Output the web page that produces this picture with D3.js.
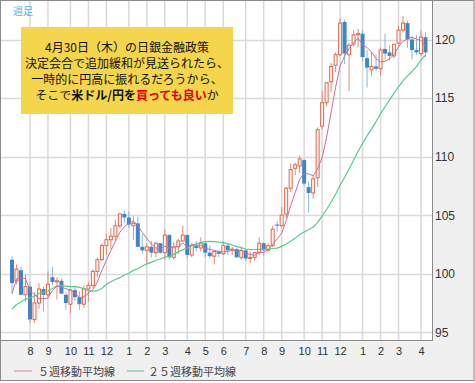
<!DOCTYPE html>
<html>
<head>
<meta charset="utf-8">
<script src="https://cdn.jsdelivr.net/npm/d3@7"></script>
<style>
  html, body { margin: 0; padding: 0; background: #ffffff; }
  svg { display: block; }
</style>
</head>
<body>
<svg id="chart" width="475" height="383"></svg>
<script>
// ---------------- DATA ----------------
// Weekly USD/JPY candles, weeks starting Monday 2013-07-08 .. 2015-04-13
const firstWeek = "2013-07-08";
const lastWeek = "2015-04-13";

const open = [
  101.2, 99.4, 100.3, 98.2, 98.9, 96.1, 97.5, 98.7, 98.2, 99.7, 99.3, 99.4, 98.2,
  97.4, 98.6, 98.0, 97.4, 98.7, 99.0, 100.2, 101.2, 102.4, 102.9, 103.2, 104.1, 105.1,
  104.8, 104.1, 104.3, 102.3, 102.0, 102.3, 101.8, 102.6, 101.8, 103.3, 101.4, 102.3, 102.8,
  103.3, 101.6, 102.4, 102.2, 102.6, 101.8, 101.5, 101.9, 101.7, 102.4, 102.0, 102.1, 101.4,
  102.0, 101.3, 101.4, 101.8, 102.6, 102.0, 102.4, 104.2, 104.1, 105.1, 107.3, 109.0, 109.2,
  109.7, 107.4, 106.9, 108.2, 112.6, 114.6, 116.4, 117.8, 118.7, 121.5, 118.7, 119.6, 120.4,
  120.5, 118.4, 117.4, 117.7, 117.5, 119.2, 118.9, 118.6, 119.7, 120.8, 121.4, 120.0, 119.1,
  118.8, 120.2
];
const high = [
  101.5, 100.8, 100.6, 99.9, 99.3, 98.4, 99.2, 98.9, 100.2, 100.6, 99.7, 99.6, 98.4,
  98.7, 99.0, 98.5, 99.0, 99.3, 100.4, 101.4, 102.6, 103.4, 103.9, 104.6, 105.2, 105.4,
  105.3, 104.9, 104.9, 103.4, 102.6, 102.8, 102.7, 102.6, 103.8, 103.4, 102.7, 103.0, 104.1,
  103.4, 102.6, 102.8, 103.1, 102.7, 102.4, 102.0, 102.0, 102.8, 102.6, 102.3, 102.2, 102.3,
  102.1, 101.9, 101.9, 103.1, 102.7, 102.6, 104.1, 104.5, 105.7, 107.4, 109.4, 109.5, 110.1,
  109.8, 107.9, 108.4, 112.5, 115.6, 116.4, 118.0, 118.9, 121.8, 121.7, 119.7, 120.8, 120.9,
  120.8, 119.1, 118.9, 118.7, 119.3, 120.5, 119.5, 119.6, 121.2, 122.0, 121.6, 120.3, 120.4,
  120.8, 120.6
];
const low = [
  98.3, 99.1, 98.3, 97.6, 95.8, 95.8, 97.0, 96.8, 98.0, 99.0, 97.8, 98.3, 96.9,
  96.6, 97.7, 96.9, 97.1, 97.6, 98.8, 99.7, 101.1, 101.6, 102.1, 102.8, 103.9, 104.3,
  103.9, 102.9, 102.3, 101.7, 100.8, 101.4, 101.4, 101.7, 101.2, 101.2, 101.2, 101.7, 102.7,
  101.3, 101.4, 101.9, 101.9, 101.4, 101.3, 100.8, 101.4, 101.6, 101.6, 101.6, 101.4, 101.2,
  101.1, 100.9, 101.1, 101.6, 101.5, 101.9, 102.3, 103.6, 104.0, 104.7, 107.0, 108.4, 108.6,
  107.5, 105.2, 106.4, 107.4, 112.3, 114.3, 115.5, 117.2, 118.6, 117.9, 115.6, 119.4, 119.3,
  118.1, 115.9, 116.9, 117.3, 116.9, 118.3, 118.2, 118.4, 119.4, 120.6, 119.3, 118.3, 118.7,
  118.6, 118.5
];
const close = [
  99.2, 100.4, 98.2, 98.9, 96.1, 97.5, 98.7, 98.2, 99.1, 99.3, 99.4, 98.3, 97.5,
  98.6, 98.0, 97.4, 98.7, 99.0, 100.2, 101.2, 102.4, 102.9, 103.2, 104.1, 105.1, 104.8,
  104.2, 104.3, 102.3, 102.0, 102.3, 101.8, 102.6, 101.8, 103.3, 101.4, 102.3, 102.8, 103.3,
  101.6, 102.4, 102.2, 102.6, 101.8, 101.5, 101.9, 101.7, 102.4, 102.0, 102.1, 101.4, 102.0,
  101.3, 101.4, 101.8, 102.6, 102.0, 102.4, 103.8, 104.1, 105.0, 107.3, 108.9, 109.3, 109.8,
  107.7, 106.9, 108.1, 112.3, 114.6, 116.3, 117.7, 118.7, 121.4, 118.8, 119.5, 120.4, 120.5,
  118.5, 117.6, 117.7, 117.5, 119.1, 118.8, 118.6, 119.6, 120.8, 121.4, 120.0, 119.1, 118.9,
  120.2, 118.9
];
// 24 weekly closes before the first drawn week (needed for the moving averages)
const preCloses = [
  90.85, 92.77, 92.66, 93.50, 93.45, 93.59, 96.03, 95.26, 94.49, 94.23, 97.56, 98.39,
  99.56, 98.01, 98.99, 101.61, 103.23, 101.04, 100.47, 97.53, 94.13, 97.86, 99.15, 101.20
];

const yTicks = [95, 100, 105, 110, 115, 120];
const monthWeeks = [
  "2013-08-05", "2013-09-02", "2013-10-07", "2013-11-04", "2013-12-02",
  "2014-01-06", "2014-02-03", "2014-03-03", "2014-04-07", "2014-05-05", "2014-06-02",
  "2014-07-07", "2014-08-04", "2014-09-01", "2014-10-06", "2014-11-03", "2014-12-01",
  "2015-01-05", "2015-02-02", "2015-03-02", "2015-04-06"
];
const monthLabels = ["8","9","10","11","12","1","2","3","4","5","6","7","8","9","10","11","12","1","2","3","4"];

const legendLabels = ["５週移動平均線", "２５週移動平均線"];
const titleTag = "週足";
const noteLines = [
  [{t: "4月30日（木）の日銀金融政策"}],
  [{t: "決定会合で追加緩和が見送られたら、"}],
  [{t: "一時的に円高に振れるだろうから、"}],
  [{t: "そこで"}, {t: "米ドル/円を", b: true}, {t: "買っても良い", b: true, red: true}, {t: "か"}]
];

// ---------------- BUILD ----------------
const fmt = d3.timeFormat("%Y-%m-%d");
const parse = d3.timeParse("%Y-%m-%d");
const weeks = d3.timeMonday.range(parse(firstWeek), d3.timeDay.offset(parse(lastWeek), 1)).map(fmt);
const candles = weeks.map((w, i) => ({w, o: open[i], h: high[i], l: low[i], c: close[i]}));

const allCloses = preCloses.concat(close);
function sma(n) {
  return close.map((_, i) => {
    const end = i + preCloses.length + 1;
    return {w: weeks[i], v: d3.mean(allCloses.slice(end - n, end))};
  });
}
const ma5 = sma(5), ma25 = sma(25);

const svg = d3.select("#chart");
const W = 475, H = 383;
const plot = {l: 1, t: 1, r: 432, b: 340};

const x = d3.scalePoint().domain(weeks).range([12, 425.5]);
const y = d3.scaleLinear().domain([95, 120]).range([332.3, 39.5]);

// backgrounds
svg.append("rect").attr("x", 0).attr("y", 0).attr("width", W).attr("height", 381)
  .attr("fill", "#f0f0f0");
svg.append("rect").attr("x", plot.l).attr("y", plot.t)
  .attr("width", plot.r - plot.l).attr("height", plot.b - plot.t).attr("fill", "#ffffff");

// gridlines
const grid = svg.append("g");
grid.selectAll("line.h").data(yTicks).join("line")
  .attr("x1", plot.l).attr("x2", plot.r)
  .attr("y1", d => Math.round(y(d)) + 0.5).attr("y2", d => Math.round(y(d)) + 0.5)
  .attr("stroke", "#d9d9d9").attr("stroke-width", 1.5);
grid.selectAll("line.v").data(monthWeeks).join("line")
  .attr("y1", plot.t).attr("y2", plot.b)
  .attr("x1", d => x(d)).attr("x2", d => x(d))
  .attr("stroke", "#d9d9d9").attr("stroke-width", 1.5);

// candles
const cg = svg.append("g");
const bw = 4;
cg.selectAll("line.wick").data(candles).join("line")
  .attr("x1", d => x(d.w)).attr("x2", d => x(d.w))
  .attr("y1", d => y(d.h)).attr("y2", d => y(d.l))
  .attr("stroke", d => d.c >= d.o ? "#e58a72" : "#86b8e2")
  .attr("stroke-width", 1);
cg.selectAll("rect.body").data(candles).join("rect")
  .attr("x", d => d.c >= d.o ? x(d.w) - bw / 2 + 0.5 : x(d.w) - bw / 2)
  .attr("width", d => d.c >= d.o ? bw - 1 : bw)
  .attr("y", d => y(Math.max(d.o, d.c)))
  .attr("height", d => Math.max(1, Math.abs(y(d.o) - y(d.c))))
  .attr("fill", d => d.c >= d.o ? "#fff6f3" : "#3f86c6")
  .attr("stroke", d => d.c >= d.o ? "#e0684c" : "none")
  .attr("stroke-width", 1);

// moving averages
const line = d3.line().x(d => x(d.w)).y(d => y(d.v));
svg.append("path").datum(ma25).attr("d", line)
  .attr("fill", "none").attr("stroke", "#58cc8c").attr("stroke-width", 1.2);
svg.append("path").datum(ma5).attr("d", line)
  .attr("fill", "none").attr("stroke", "#c86f9c").attr("stroke-width", 1);

// plot border
svg.append("rect").attr("x", plot.l - 0.5).attr("y", plot.t - 0.5)
  .attr("width", plot.r - plot.l + 1).attr("height", plot.b - plot.t + 1)
  .attr("fill", "none").attr("stroke", "#8a8a8a").attr("stroke-width", 1);
// outer frame
svg.append("rect").attr("x", 0.5).attr("y", 0.5).attr("width", W - 1.5).attr("height", 380)
  .attr("fill", "none").attr("stroke", "#8a8a8a").attr("stroke-width", 1);

// y axis
const yAxis = svg.append("g").attr("transform", `translate(${plot.r},0)`)
  .call(d3.axisRight(y).tickValues(yTicks).tickSize(0).tickPadding(3).tickFormat(d3.format("d")));
yAxis.select(".domain").remove();
yAxis.selectAll("text").attr("font-family", "'Liberation Sans', Arial, sans-serif")
  .attr("font-size", 12).attr("fill", "#333");

// x axis
const monthMap = new Map(monthWeeks.map((w, i) => [w, monthLabels[i]]));
const xAxis = svg.append("g").attr("transform", `translate(0,${plot.b})`)
  .call(d3.axisBottom(x).tickValues(monthWeeks).tickSize(0).tickPadding(7).tickFormat(d => monthMap.get(d)));
xAxis.select(".domain").remove();
xAxis.selectAll("text").attr("font-family", "'Liberation Sans', Arial, sans-serif")
  .attr("font-size", 11).attr("fill", "#333");

// legend
const lg = svg.append("g");
const legendItems = [
  {label: legendLabels[0], color: "#e3a6bf", x1: 14, x2: 32, tx: 38},
  {label: legendLabels[1], color: "#84d6ad", x1: 127, x2: 144, tx: 148}
];
legendItems.forEach(it => {
  lg.append("line").attr("x1", it.x1).attr("x2", it.x2).attr("y1", 371).attr("y2", 371)
    .attr("stroke", it.color).attr("stroke-width", 1.5);
  lg.append("text").attr("x", it.tx).attr("y", 371).attr("dominant-baseline", "central")
    .attr("font-family", "'Noto Sans CJK JP', sans-serif").attr("font-size", 11)
    .attr("fill", "#444").text(it.label);
});

// 週足 tag
svg.append("text").attr("x", 13).attr("y", 10).attr("dominant-baseline", "central")
  .attr("font-family", "'Noto Sans CJK JP', sans-serif").attr("font-size", 10)
  .attr("fill", "#4fb4ea").text(titleTag);

// note box
svg.append("rect").attr("x", 21).attr("y", 27).attr("width", 212).attr("height", 87)
  .attr("fill", "#f5d54c");
const noteY = [46, 62, 78, 93.5];
noteLines.forEach((parts, i) => {
  const t = svg.append("text").attr("x", 127).attr("y", noteY[i])
    .attr("text-anchor", "middle").attr("dominant-baseline", "central")
    .attr("font-family", "'Noto Sans CJK JP', sans-serif").attr("font-size", 12)
    .attr("fill", "#111");
  parts.forEach(p => {
    t.append("tspan").text(p.t)
      .attr("font-weight", p.b ? "bold" : "normal")
      .attr("fill", p.red ? "#e00000" : "#111");
  });
});
</script>
</body>
</html>
